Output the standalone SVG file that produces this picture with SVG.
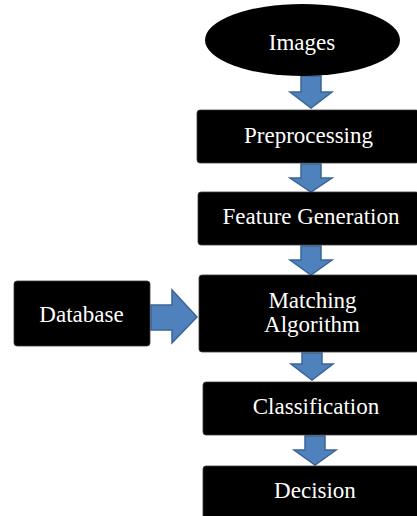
<svg xmlns="http://www.w3.org/2000/svg" width="417" height="516" viewBox="0 0 417 516">
<style>
.box{fill:#000;stroke:#3a3a3a;stroke-width:0.8}
.lbl{font-family:"Liberation Serif","Times New Roman",serif;font-size:23px;fill:#fff;text-anchor:middle}
.arr{fill:#4f81bd;stroke:#3a6596;stroke-width:1.5;stroke-linejoin:miter}
</style>
<rect width="417" height="516" fill="#fff"/>
<g id="connectors">
<path class="arr" d="M301,76 H321 V92 H332 L311,108 L290,92 H301 Z"/>
<path class="arr" d="M301,164 H321 V178 H332 L311,192 L290,178 H301 Z"/>
<path class="arr" d="M301,246 H321 V260 H332 L311,275 L290,260 H301 Z"/>
<path class="arr" d="M302,353 H322 V364 H333 L312,380 L291,364 H302 Z"/>
<path class="arr" d="M305,436 H325 V450 H336 L315,465 L294,450 H305 Z"/>
<path class="arr" d="M151,305 H172 V290 L197,317 L172,343 V330 H151 Z"/>
</g>
<g id="images">
<ellipse cx="302.5" cy="40" rx="97.5" ry="36" fill="#000"/>
<text class="lbl" x="302" y="50">Images</text>
</g>
<g id="preprocessing">
<rect class="box" x="197" y="110" width="222" height="53" rx="3"/>
<text class="lbl" x="308.5" y="143">Preprocessing</text>
</g>
<g id="feature-generation">
<rect class="box" x="198" y="192" width="221" height="53" rx="3"/>
<text class="lbl" x="311" y="224">Feature Generation</text>
</g>
<g id="matching-algorithm">
<rect class="box" x="199" y="275" width="220" height="77" rx="3"/>
<text class="lbl" x="312.5" y="308">Matching</text>
<text class="lbl" x="312" y="332">Algorithm</text>
</g>
<g id="database">
<rect class="box" x="14" y="281" width="136" height="65" rx="3"/>
<text class="lbl" x="81.5" y="322">Database</text>
</g>
<g id="classification">
<rect class="box" x="203" y="382" width="216" height="53" rx="3"/>
<text class="lbl" x="316" y="414">Classification</text>
</g>
<g id="decision">
<rect class="box" x="203" y="466" width="216" height="55" rx="3"/>
<text class="lbl" x="315" y="498">Decision</text>
</g>
</svg>
